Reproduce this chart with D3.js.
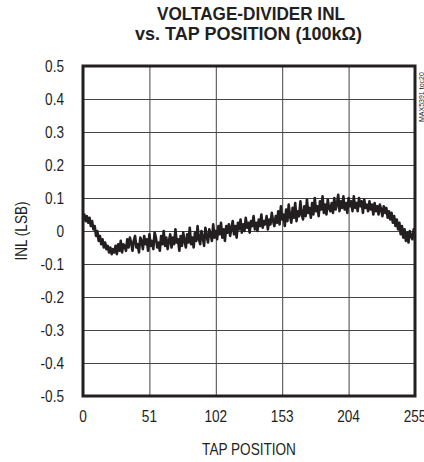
<!DOCTYPE html>
<html>
<head>
    <meta charset="utf-8">
    <title>Voltage-divider INL</title>
    <script src="https://cdn.jsdelivr.net/npm/d3@7/dist/d3.min.js"></script>
    <style>
        body { margin: 0; background: #fff; }
        text { font-family: "Liberation Sans", Arial, sans-serif; fill: #231f20; }
    </style>
</head>
<body>
<svg id="chart" width="424" height="462"></svg>
<script>
    // chart data
    let titleLines = ["VOLTAGE-DIVIDER INL", "vs. TAP POSITION (100k\u03A9)"]
    let xTicks = [0, 51, 102, 153, 204, 255]
    let yTicks = [0.5, 0.4, 0.3, 0.2, 0.1, 0, -0.1, -0.2, -0.3, -0.4, -0.5]
    let yTickLabels = ["0.5", "0.4", "0.3", "0.2", "0.1", "0", "-0.1", "-0.2", "-0.3", "-0.4", "-0.5"]
    // INL (LSB) for tap 0..255
    let inl = [
        0.035, 0.05, 0.03, 0.045, 0.025, 0.04, 0.015, 0.03, 0.005, 0.015, -0.015, 0.0, -0.03, -0.015, -0.04, -0.025,
        -0.05, -0.035, -0.055, -0.045, -0.065, -0.05, -0.07, -0.055, -0.065, -0.045, -0.07, -0.04, -0.06, -0.03, -0.065, -0.04,
        -0.045, -0.06, -0.025, -0.05, -0.02, -0.035, -0.06, -0.03, -0.015, -0.05, -0.04, -0.065, -0.02, -0.03, -0.055, -0.015,
        -0.04, -0.025, -0.06, -0.01, -0.045, -0.03, -0.055, -0.005, -0.02, -0.05, -0.035, -0.06, -0.015, -0.04, 0.0, -0.045,
        -0.02, -0.055, -0.03, -0.01, -0.05, -0.02, -0.04, 0.005, -0.035, -0.025, -0.06, -0.015, -0.045, -0.005, -0.03, -0.05,
        -0.01, -0.035, 0.01, -0.04, -0.02, -0.05, -0.005, -0.03, 0.015, -0.025, -0.04, 0.0, -0.02, -0.045, 0.01, -0.015,
        -0.035, 0.005, -0.01, -0.03, 0.02, -0.02, 0.0, -0.025, 0.015, -0.01, 0.025, -0.02, 0.005, -0.03, 0.015, -0.005,
        0.02, -0.015, 0.01, 0.03, -0.01, 0.015, -0.02, 0.025, 0.005, 0.035, -0.005, 0.02, 0.0, 0.04, 0.01, 0.025,
        -0.005, 0.03, 0.015, 0.045, 0.005, 0.025, 0.0, 0.035, 0.015, 0.05, 0.01, 0.03, 0.02, 0.045, 0.005, 0.035,
        0.02, 0.055, 0.03, 0.015, 0.045, 0.025, 0.06, 0.02, 0.075, 0.035, 0.05, 0.015, 0.065, 0.03, 0.08, 0.045,
        0.025, 0.07, 0.04, 0.085, 0.03, 0.06, 0.045, 0.09, 0.05, 0.035, 0.075, 0.045, 0.095, 0.055, 0.07, 0.04,
        0.085, 0.05, 0.1, 0.06, 0.075, 0.045, 0.09, 0.065, 0.105, 0.055, 0.08, 0.05, 0.095, 0.07, 0.06, 0.085,
        0.055, 0.1, 0.065, 0.08, 0.11, 0.06, 0.09, 0.07, 0.105, 0.065, 0.085, 0.055, 0.1, 0.075, 0.09, 0.06,
        0.105, 0.07, 0.085, 0.06, 0.1, 0.075, 0.09, 0.055, 0.095, 0.07, 0.08, 0.06, 0.09, 0.065, 0.08, 0.05,
        0.085, 0.06, 0.075, 0.05, 0.08, 0.065, 0.045, 0.075, 0.055, 0.07, 0.04, 0.06, 0.035, 0.055, 0.025, 0.045,
        0.015, 0.035, 0.005, 0.025, -0.01, 0.015, -0.02, 0.005, -0.03, -0.005, -0.035, 0.0, -0.015, -0.025, 0.005, -0.01
    ]

    let plot = {left: 83, right: 415, top: 66, bottom: 396}
    let svg = d3.select("#chart")

    let x = d3.scaleLinear().domain([0, 255]).range([plot.left, plot.right])
    let y = d3.scaleLinear().domain([-0.5, 0.5]).range([plot.bottom, plot.top])

    // title, squeezed to the narrow bold face of the original
    let titleWidths = [188, 227]
    svg.selectAll(".title")
        .data(titleLines)
        .enter()
        .append("text")
        .attr("class", "title")
        .attr("x", (d, i) => i == 0 ? 251 : 248.5)
        .attr("y", (d, i) => 20 + i * 19.5)
        .attr("text-anchor", "middle")
        .attr("textLength", (d, i) => titleWidths[i])
        .attr("lengthAdjust", "spacingAndGlyphs")
        .style("font-size", "18px")
        .style("font-weight", "bold")
        .text(d => d)

    // gridlines
    svg.append("g")
        .attr("transform", "translate(0," + plot.bottom + ")")
        .call(d3.axisBottom(x).tickValues(xTicks).tickSize(-(plot.bottom - plot.top)).tickFormat(""))
        .call(g => g.select(".domain").remove())
        .call(g => g.selectAll("line").attr("stroke", "#444").attr("stroke-width", 1))

    svg.append("g")
        .attr("transform", "translate(" + plot.left + ",0)")
        .call(d3.axisLeft(y).tickValues(yTicks).tickSize(-(plot.right - plot.left)).tickFormat(""))
        .call(g => g.select(".domain").remove())
        .call(g => g.selectAll("line").attr("stroke", "#444").attr("stroke-width", 1))

    // tick labels
    svg.selectAll(".xlab")
        .data(xTicks)
        .enter()
        .append("text")
        .attr("class", "xlab")
        .attr("transform", d => "translate(" + x(d) + "," + (plot.bottom + 26) + ") scale(0.85,1)")
        .attr("text-anchor", "middle")
        .style("font-size", "16px")
        .text(d => d)

    svg.selectAll(".ylab")
        .data(yTicks)
        .enter()
        .append("text")
        .attr("class", "ylab")
        .attr("transform", d => "translate(64," + (y(d) + 5.5) + ") scale(0.85,1)")
        .attr("text-anchor", "end")
        .style("font-size", "16px")
        .text((d, i) => yTickLabels[i])

    // axis titles
    svg.append("text")
        .attr("transform", "translate(249,455) scale(0.85,1)")
        .attr("text-anchor", "middle")
        .style("font-size", "16px")
        .text("TAP POSITION")

    svg.append("text")
        .attr("transform", "translate(27," + y(0) + ") rotate(-90) scale(0.85,1)")
        .attr("text-anchor", "middle")
        .style("font-size", "16px")
        .text("INL (LSB)")

    svg.append("text")
        .attr("transform", "translate(424,122) rotate(-90)")
        .attr("text-anchor", "start")
        .style("font-size", "7px")
        .text("MAX5391 toc20")

    // data line
    let line = d3.line()
        .x((d, i) => x(i))
        .y(d => y(d))

    svg.append("path")
        .datum(inl)
        .attr("d", line)
        .attr("fill", "none")
        .attr("stroke", "#231f20")
        .attr("stroke-width", 2.6)
        .attr("stroke-linejoin", "round")

    // frame
    svg.append("rect")
        .attr("x", plot.left)
        .attr("y", plot.top)
        .attr("width", plot.right - plot.left)
        .attr("height", plot.bottom - plot.top)
        .attr("fill", "none")
        .attr("stroke", "#231f20")
        .attr("stroke-width", 3)
</script>
</body>
</html>
